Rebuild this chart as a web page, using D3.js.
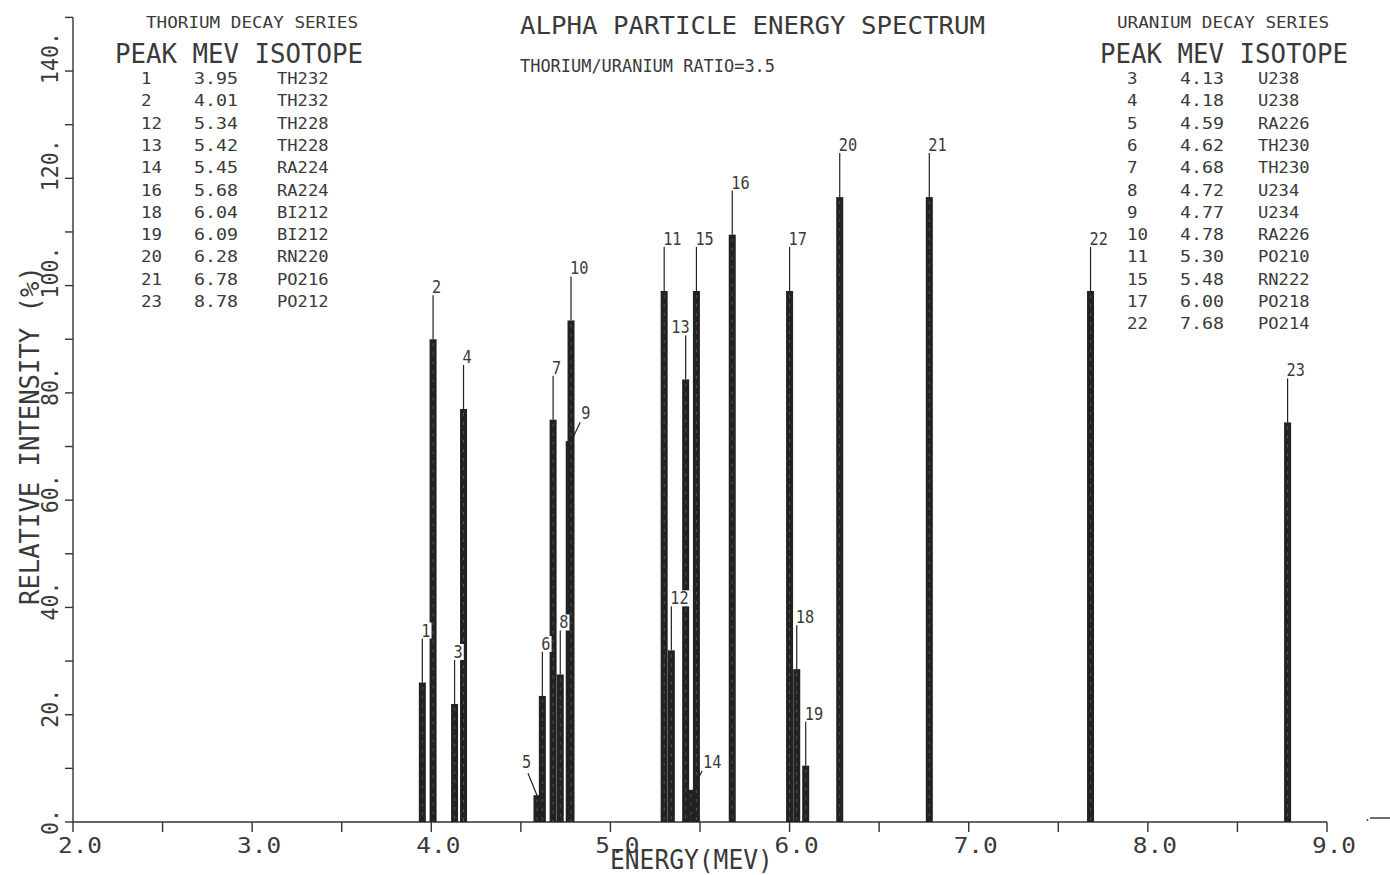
<!DOCTYPE html>
<html>
<head>
<meta charset="utf-8">
<script src="https://cdn.jsdelivr.net/npm/d3@7"></script>
<style>
  html, body { margin: 0; padding: 0; background: #fff; }
  svg text { font-family: "DejaVu Sans Mono", "Liberation Mono", monospace; fill: #3a3a3a; }
</style>
</head>
<body>
<svg id="chart" width="1390" height="875"></svg>
<script>
// ---------------- data ----------------
const peakIds = [1,2,3,4,5,6,7,8,9,10,11,12,13,14,15,16,17,18,19,20,21,22,23];
const peakEnergies = [3.95,4.01,4.13,4.18,4.59,4.62,4.68,4.72,4.77,4.78,5.30,5.34,5.42,5.45,5.48,5.68,6.00,6.04,6.09,6.28,6.78,7.68,8.78];
const peakIntensities = [26,90,22,77,5,23.5,75,27.5,71,93.5,99,32,82.5,6,99,109.5,99,28.5,10.5,116.5,116.5,99,74.5];

const thoriumPeaks = ["1","2","12","13","14","16","18","19","20","21","23"];
const thoriumMev = ["3.95","4.01","5.34","5.42","5.45","5.68","6.04","6.09","6.28","6.78","8.78"];
const thoriumIsotopes = ["TH232","TH232","TH228","TH228","RA224","RA224","BI212","BI212","RN220","PO216","PO212"];

const uraniumPeaks = ["3","4","5","6","7","8","9","10","11","15","17","22"];
const uraniumMev = ["4.13","4.18","4.59","4.62","4.68","4.72","4.77","4.78","5.30","5.48","6.00","7.68"];
const uraniumIsotopes = ["U238","U238","RA226","TH230","TH230","U234","U234","RA226","PO210","RN222","PO218","PO214"];

const xTickValues = [2,3,4,5,6,7,8,9];
const xTickLabels = ["2.0","3.0","4.0","5.0","6.0","7.0","8.0","9.0"];
const yTickValues = [0,20,40,60,80,100,120,140];
const yTickLabels = ["0.","20.","40.","60.","80.","100.","120.","140."];

const titleText = "ALPHA PARTICLE ENERGY SPECTRUM";
const subtitleText = "THORIUM/URANIUM RATIO=3.5";
const xAxisTitle = "ENERGY(MEV)";
const yAxisTitle = "RELATIVE INTENSITY (%)";

// ---------------- layout ----------------
const labelStyle = {5: "diagLeft", 9: "diagRight", 14: "diagRight", 13: "left"};

const svg = d3.select("#chart");
const x = d3.scaleLinear().domain([2, 9]).range([73, 1327]);
const y = d3.scaleLinear().domain([0, 150]).range([822, 17.4]);
const ink = "#222";

function txt(g, px, py, s, size, pitch, anchor, rot) {
  const t = g.append("text")
    .attr("font-size", size)
    .attr("text-anchor", anchor || "start")
    .attr("textLength", pitch * s.length)
    .attr("lengthAdjust", "spacingAndGlyphs")
    .text(s);
  if (rot) t.attr("transform", `translate(${px},${py}) rotate(${rot})`);
  else t.attr("x", px).attr("y", py);
  return t;
}

// ---- axes ----
const axG = svg.append("g").attr("stroke", "#333").attr("stroke-width", 1.4).attr("fill", "none");
axG.append("line").attr("x1", x(2)).attr("x2", x(9)).attr("y1", y(0)).attr("y2", y(0));
axG.append("line").attr("x1", x(2)).attr("x2", x(2)).attr("y1", y(0)).attr("y2", y(150));
d3.range(0, 151, 10).forEach(v => {
  axG.append("line").attr("x1", x(2) - 8).attr("x2", x(2)).attr("y1", y(v)).attr("y2", y(v));
});
d3.range(2, 9.01, 0.5).forEach(e => {
  axG.append("line").attr("x1", x(e)).attr("x2", x(e)).attr("y1", y(0)).attr("y2", y(0) + 10);
});
axG.append("line").attr("x1", 1370).attr("x2", 1390).attr("y1", 818).attr("y2", 818);
svg.append("circle").attr("cx", 1367.5).attr("cy", 820).attr("r", 0.9).attr("fill", "#333");

const lblG = svg.append("g");
xTickValues.forEach((v, i) => {
  txt(lblG, x(v) + 7, 853, xTickLabels[i], 21, 14.7, "middle");
});
yTickValues.forEach((v, i) => {
  txt(lblG, 58, y(v) + 13, yTickLabels[i], 23, 13, "start", -90);
});
txt(lblG, 610, 869, xAxisTitle, 26, 14.8, "start");
txt(lblG, 39, 605, yAxisTitle, 27, 15.4, "start", -90);

// ---- titles & tables ----
txt(lblG, 520, 34, titleText, 25, 15.5, "start");
txt(lblG, 520, 72, subtitleText, 17, 10.2, "start");

function table(x0, xHead, title, peaks, mev, iso, colX) {
  txt(lblG, x0, 28, title, 16, 10.6, "start");
  txt(lblG, xHead, 63, "PEAK MEV ISOTOPE", 27, 15.5, "start");
  peaks.forEach((p, i) => {
    const by = 84 + 22.3 * i;
    txt(lblG, colX[0], by, p, 15, 10.5, "start");
    txt(lblG, colX[1], by, mev[i], 15, 11, "start");
    txt(lblG, colX[2], by, iso[i], 15, 10.3, "start");
  });
}
table(146, 115, "THORIUM DECAY SERIES", thoriumPeaks, thoriumMev, thoriumIsotopes, [141, 194, 277]);
table(1117, 1100, "URANIUM DECAY SERIES", uraniumPeaks, uraniumMev, uraniumIsotopes, [1127, 1180, 1258]);

// ---- bars ----
const barW = 7;
const barG = svg.append("g");
peakIds.forEach((id, i) => {
  const e = peakEnergies[i], v = peakIntensities[i];
  barG.append("rect")
    .attr("x", x(e) - barW / 2).attr("width", barW)
    .attr("y", y(v)).attr("height", y(0) - y(v))
    .attr("fill", ink);
  barG.append("line")
    .attr("x1", x(e)).attr("x2", x(e)).attr("y1", y(v) + 4).attr("y2", y(0))
    .attr("stroke", "#555").attr("stroke-width", 1).attr("stroke-dasharray", "3,6");
});

// ---- peak labels with leaders ----
const annG = svg.append("g");
peakIds.forEach((id, i) => {
  const px = x(peakEnergies[i]), pt = y(peakIntensities[i]);
  const s = String(id);
  const style = labelStyle[id] || "up";
  let tx, ty, anchor = "start", line;
  if (style === "up") {
    line = [px, pt, px, pt - 51]; tx = px - 1; ty = pt - 46;
  } else if (style === "left") {
    line = [px, pt, px, pt - 51]; tx = px + 4; ty = pt - 46; anchor = "end";
  } else if (style === "diagLeft") {
    line = [px, pt, px - 9, pt - 22]; tx = px - 15; ty = pt - 27;
  } else {
    line = [px + 2, pt, px + 11, pt - 19]; tx = px + 12; ty = pt - 22;
  }
  annG.append("line")
    .attr("x1", line[0]).attr("y1", line[1]).attr("x2", line[2]).attr("y2", line[3])
    .attr("stroke", ink).attr("stroke-width", 1.2);
  const w = 9.2 * s.length;
  const left = anchor === "end" ? tx - w : tx;
  annG.append("rect")
    .attr("x", left - 1).attr("y", ty - 14).attr("width", w + 2).attr("height", 16)
    .attr("fill", "#fff");
  txt(annG, tx, ty, s, 17, 9.2, anchor);
});
</script>
</body>
</html>
